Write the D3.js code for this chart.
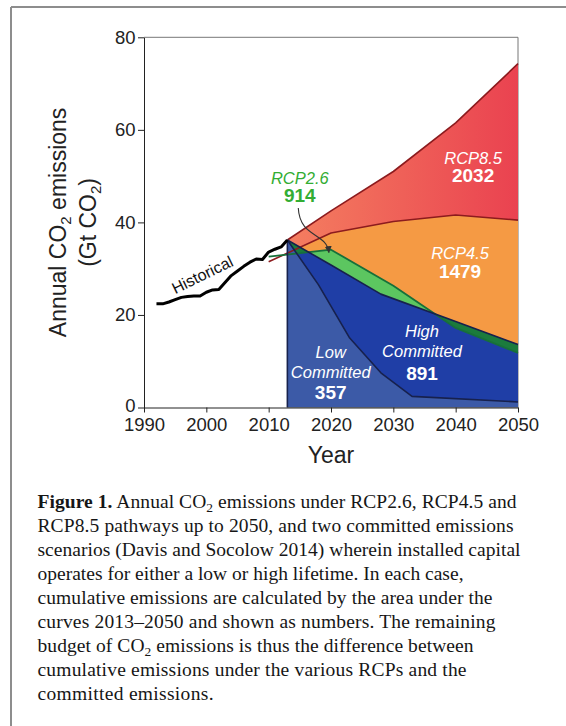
<!DOCTYPE html>
<html>
<head>
<meta charset="utf-8">
<script src="https://cdn.jsdelivr.net/npm/d3@7"></script>
<style>
    body { margin: 0; background: #fff; }
    svg { display: block; }
    .axis text { font-family: "Liberation Sans", Arial, sans-serif; font-size: 18.5px; fill: #222; }
    .axis path, .axis line { stroke: #222; stroke-width: 1; }
    .sans { font-family: "Liberation Sans", Arial, sans-serif; }
    .serif { font-family: "Liberation Serif", "Times New Roman", serif; }
</style>
</head>
<body>
<svg id="chart" width="566" height="726"></svg>
<script>
// ---- data (Gt CO2 per year) ----
const xTicks = [1990, 2000, 2010, 2020, 2030, 2040, 2050];
const yTicks = [0, 20, 40, 60, 80];

const histYears  = [1992, 1993, 1994, 1995, 1996, 1997, 1998, 1999, 2000, 2001, 2002,
                    2003, 2004, 2005, 2006, 2007, 2008, 2009, 2010, 2011, 2012, 2013];
const histValues = [22.4, 22.4, 22.8, 23.3, 23.8, 24.0, 24.1, 24.1, 24.9, 25.4, 25.5,
                    27.0, 28.5, 29.5, 30.5, 31.4, 32.1, 32.0, 33.6, 34.2, 34.7, 36.2];

const rcp85Years  = [2013, 2020, 2030, 2040, 2050];
const rcp85Values = [36.2, 42.5, 51.0, 61.5, 74.3];

const rcp45Years  = [2010, 2020, 2030, 2040, 2050];
const rcp45Values = [31.5, 37.7, 40.2, 41.6, 40.5];

const rcp26Years  = [2010, 2020, 2030, 2040, 2050];
const rcp26Values = [32.6, 34.1, 26.3, 17.2, 11.8];

const highYears  = [2013, 2020, 2028, 2040, 2050];
const highValues = [36.2, 30.8, 24.5, 18.6, 13.6];

const lowYears  = [2013, 2018, 2023, 2028, 2033, 2050];
const lowValues = [36.2, 26.5, 15.0, 7.5, 2.4, 1.2];

const committedStart = 2013;

// label anchors in data units (year, value = baseline of first line)
const regionLabels = [
    { name: ["RCP8.5"], total: "2032", year: 2042.8, value: 52.6, color: "#ffffff", gap: 18 },
    { name: ["RCP4.5"], total: "1479", year: 2040.7, value: 32.1, color: "#ffffff", gap: 19 },
    { name: ["RCP2.6"], total: "914",  year: 2015.0, value: 48.3, color: "#33ad33", gap: 18.5 },
    { name: ["High", "Committed"], total: "891", year: 2034.6, value: 15.3, color: "#ffffff", gap: 23 },
    { name: ["Low", "Committed"],  total: "357", year: 2019.95, value: 10.8, color: "#ffffff", gap: 21 }
];
const historicalLabel = { text: "Historical", year: 1999.75, value: 27.6, angle: -26 };
// arrow from the RCP2.6 label into the green band: start, two control points, end
const arrowPoints = [[2014.75, 43.1], [2015.0, 36.6], [2019.3, 37.9], [2019.66, 33.5]];

const captionLines = [
    [["Figure 1.", "b"], [" Annual CO"], ["2", "sub"], [" emissions under RCP2.6, RCP4.5 and"]],
    [["RCP8.5 pathways up to 2050, and two committed emissions"]],
    [["scenarios (Davis and Socolow 2014) wherein installed capital"]],
    [["operates for either a low or high lifetime. In each case,"]],
    [["cumulative emissions are calculated by the area under the"]],
    [["curves 2013\u20132050 and shown as numbers. The remaining"]],
    [["budget of CO"], ["2", "sub"], [" emissions is thus the difference between"]],
    [["cumulative emissions under the various RCPs and the"]],
    [["committed emissions."]]
];
// measured width of each caption line in the figure
const captionWidths = [479, 476, 483, 426, 455, 458, 436, 429, 176];

// ---- setup ----
const svg = d3.select("#chart");
const x = d3.scaleLinear().domain([1990, 2050]).range([144, 518]);
const y = d3.scaleLinear().domain([0, 80]).range([407.5, 37.3]);

const zip = (years, vals) => years.map((yr, i) => ({ year: yr, v: vals[i] }));
const hist = zip(histYears, histValues);
const rcp85 = zip(rcp85Years, rcp85Values);
const rcp45 = zip(rcp45Years, rcp45Values);
const rcp26 = zip(rcp26Years, rcp26Values);
const high = zip(highYears, highValues);
const low = zip(lowYears, lowValues);

// outer figure border (cropped at right and bottom)
svg.append("line").attr("x1", 11).attr("x2", 11).attr("y1", 7).attr("y2", 726)
    .attr("stroke", "#8d8d8d").attr("stroke-width", 2);
svg.append("line").attr("x1", 11).attr("x2", 566).attr("y1", 7).attr("y2", 7)
    .attr("stroke", "#8d8d8d").attr("stroke-width", 2);

const defs = svg.append("defs");
const grad = defs.append("linearGradient").attr("id", "redGrad")
    .attr("gradientUnits", "userSpaceOnUse")
    .attr("x1", x(committedStart)).attr("x2", x(2050)).attr("y1", 0).attr("y2", 0);
grad.append("stop").attr("offset", 0).attr("stop-color", "#f47e60");
grad.append("stop").attr("offset", 1).attr("stop-color", "#ea4250");

defs.append("clipPath").attr("id", "fromStart").append("rect")
    .attr("x", x(committedStart)).attr("y", y(80))
    .attr("width", x(2050) - x(committedStart)).attr("height", y(0) - y(80));

const areaTo0 = d3.area().x(d => x(d.year)).y0(y(0)).y1(d => y(d.v));
const line = d3.line().x(d => x(d.year)).y(d => y(d.v));

defs.append("clipPath").attr("id", "belowHigh").append("path").attr("d", areaTo0(high));

// plot frame (top and right)
svg.append("path")
    .attr("d", `M${x(1990)},${y(80)}H${x(2050)}V${y(0)}`)
    .attr("fill", "none").attr("stroke", "#777").attr("stroke-width", 1);

// ---- stacked regions ----
const regions = svg.append("g").attr("clip-path", "url(#fromStart)");
regions.append("path").attr("d", areaTo0(rcp85)).attr("fill", "url(#redGrad)");
regions.append("path").attr("d", areaTo0(rcp45)).attr("fill", "#f59a44");
regions.append("path").attr("d", areaTo0(rcp26)).attr("fill", "#5cc660");
regions.append("path").attr("d", areaTo0(high)).attr("fill", "#1f3ea6");
// where RCP2.6 dips under the high committed curve the band shows dark green
regions.append("g").attr("clip-path", "url(#belowHigh)")
    .append("path")
    .attr("d", d3.area().x(d => x(d.year)).y0(y(80)).y1(d => y(d.v))(rcp26))
    .attr("fill", "#1b7b3c");
regions.append("path").attr("d", areaTo0(low)).attr("fill", "#3c5aa7");

// ---- boundary lines ----
const lines = svg.append("g").attr("fill", "none").attr("stroke-linejoin", "round");
lines.append("path").attr("d", line(rcp85)).attr("stroke", "#8c1b1e").attr("stroke-width", 1.6);
lines.append("path").attr("d", line(rcp45)).attr("stroke", "#8c1b1e").attr("stroke-width", 1.6);
lines.append("path").attr("d", line(rcp26)).attr("stroke", "#17703a").attr("stroke-width", 1.8);
lines.append("path").attr("d", line(high)).attr("stroke", "#17214d").attr("stroke-width", 1.6);
lines.append("path").attr("d", line(low)).attr("stroke", "#17214d").attr("stroke-width", 1.6);
lines.append("line")
    .attr("x1", x(committedStart)).attr("x2", x(committedStart))
    .attr("y1", y(0)).attr("y2", y(highValues[0]))
    .attr("stroke", "#17214d").attr("stroke-width", 1.6);

// historical
svg.append("path").attr("d", line(hist))
    .attr("fill", "none").attr("stroke", "#000").attr("stroke-width", 3)
    .attr("stroke-linejoin", "round");

// ---- axes ----
const xAxis = svg.append("g").attr("class", "axis")
    .attr("transform", `translate(0,${y(0)})`)
    .call(d3.axisBottom(x).tickValues(xTicks).tickFormat(d3.format("d"))
        .tickSize(5).tickPadding(5).tickSizeOuter(0));

const yAxis = svg.append("g").attr("class", "axis")
    .attr("transform", `translate(${x(1990)},0)`)
    .call(d3.axisLeft(y).tickValues(yTicks).tickSize(6).tickPadding(2.5).tickSizeOuter(0));
// the zero label sits a touch higher so it clears the 1990 label
yAxis.selectAll(".tick text").filter(d => d === 0).attr("dy", "0.2em");

svg.append("text").attr("class", "sans")
    .attr("x", (x(1990) + x(2050)) / 2).attr("y", 463)
    .attr("text-anchor", "middle").attr("font-size", 23).attr("fill", "#222")
    .text("Year");

// y title, two rotated lines
const yTitle = svg.append("g")
    .attr("transform", `translate(66,${(y(0) + y(80)) / 2}) rotate(-90)`)
    .attr("class", "sans").attr("font-size", 23).attr("fill", "#222");
const t1 = yTitle.append("text").attr("text-anchor", "middle").attr("y", 0);
t1.append("tspan").text("Annual CO");
t1.append("tspan").attr("font-size", 15).attr("dy", 5).text("2");
t1.append("tspan").attr("dy", -5).text(" emissions");
const t2 = yTitle.append("text").attr("text-anchor", "middle").attr("y", 30);
t2.append("tspan").text("(Gt CO");
t2.append("tspan").attr("font-size", 15).attr("dy", 5).text("2");
t2.append("tspan").attr("dy", -5).text(")");

// ---- annotations ----
regionLabels.forEach(lab => {
    const g = svg.append("g").attr("class", "sans").attr("fill", lab.color)
        .attr("text-anchor", "middle");
    lab.name.forEach((nm, i) => {
        g.append("text").attr("x", x(lab.year)).attr("y", y(lab.value) + i * 20)
            .attr("font-size", 16.5).attr("font-style", "italic").text(nm);
    });
    g.append("text").attr("x", x(lab.year))
        .attr("y", y(lab.value) + (lab.name.length - 1) * 20 + lab.gap)
        .attr("font-size", 19).attr("font-weight", "bold").text(lab.total);
});

svg.append("text").attr("class", "sans")
    .attr("transform", `translate(${x(historicalLabel.year)},${y(historicalLabel.value)}) rotate(${historicalLabel.angle})`)
    .attr("text-anchor", "middle").attr("font-size", 16).attr("fill", "#111")
    .text(historicalLabel.text);

defs.append("marker").attr("id", "arrowHead")
    .attr("viewBox", "0 0 10 10").attr("refX", 9).attr("refY", 5)
    .attr("markerWidth", 7).attr("markerHeight", 7).attr("markerUnits", "userSpaceOnUse")
    .attr("orient", "auto")
    .append("path").attr("d", "M0,0L10,5L0,10Z").attr("fill", "#333");

const ap = arrowPoints.map(p => [x(p[0]), y(p[1])]);
svg.append("path")
    .attr("d", `M${ap[0]}C${ap[1]} ${ap[2]} ${ap[3]}`)
    .attr("fill", "none").attr("stroke", "#333").attr("stroke-width", 1.1)
    .attr("marker-end", "url(#arrowHead)");

// ---- caption ----
const cap = svg.append("g").attr("class", "serif").attr("font-size", 19.5).attr("fill", "#161616");
captionLines.forEach((parts, i) => {
    const t = cap.append("text").attr("x", 37.5).attr("y", 508.3 + i * 24)
        .attr("textLength", captionWidths[i]).attr("lengthAdjust", "spacing");
    let prevSub = false;
    parts.forEach(([txt, kind]) => {
        const s = t.append("tspan").text(txt);
        if (kind === "b") s.attr("font-weight", "bold");
        if (kind === "sub") s.attr("font-size", 13.5).attr("dy", 4);
        else if (prevSub) s.attr("dy", -4);
        prevSub = kind === "sub";
    });
});
</script>
</body>
</html>
